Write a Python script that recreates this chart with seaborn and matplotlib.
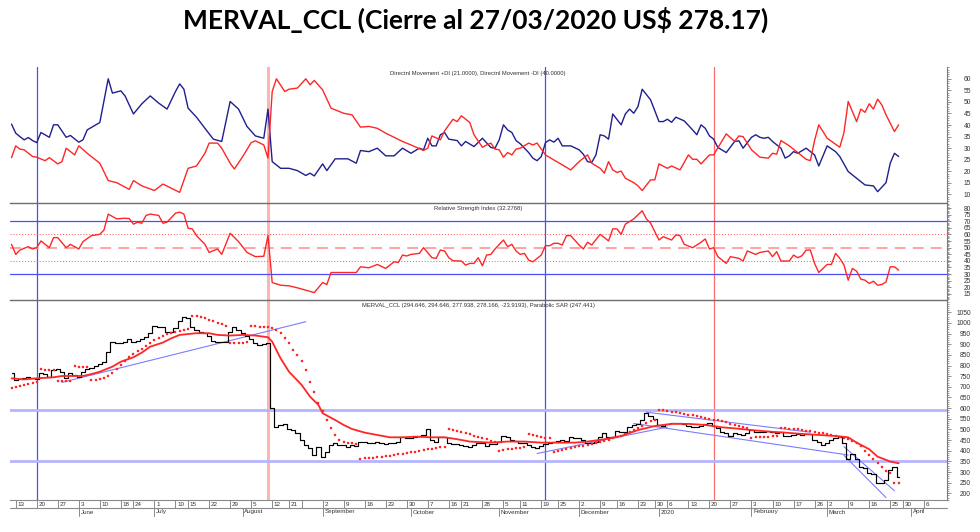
import numpy as np
import pandas as pd
import matplotlib
matplotlib.use("Agg")
import matplotlib.pyplot as plt
import matplotlib.transforms as mtransforms
from matplotlib.ticker import MultipleLocator
import seaborn as sns

# ---------------- data ----------------
first_session = "2019-05-10"
axis_end = "2020-04-14"
last_close_date = "2020-03-27"
no_session_dates = ["2019-06-17", "2019-06-20", "2019-07-08", "2019-07-09", "2019-08-16",
                    "2019-08-19", "2019-08-20", "2019-10-14", "2019-10-15", "2019-11-01",
                    "2019-11-18", "2019-12-13", "2019-12-25", "2019-12-31", "2020-01-01",
                    "2020-02-24", "2020-02-25", "2020-03-23", "2020-03-24"]

close = [764, 732, 735, 740, 748, 740, 737, 767, 760, 748, 779, 784, 771, 740, 767, 756, 745, 771, 782, 790,
         798, 807, 818, 865, 912, 905, 905, 912, 923, 912, 917, 923, 936, 952, 986, 980, 980, 959, 959, 975,
         1011, 1027, 1022, 983, 967, 959, 952, 939, 917, 912, 912, 912, 959, 980, 967, 955, 940, 925, 908, 897,
         901, 908, 599, 513, 521, 526, 500, 497, 482, 450, 427, 411, 380, 419, 372, 396, 427, 435, 427, 427,
         419, 427, 422, 443, 443, 438, 438, 443, 438, 432, 435, 438, 443, 463, 458, 458, 463, 469, 474, 500,
         450, 443, 466, 466, 435, 432, 432, 427, 424, 419, 427, 435, 438, 422, 432, 432, 443, 469, 463, 450,
         447, 435, 435, 427, 419, 411, 422, 432, 438, 443, 447, 450, 447, 463, 458, 458, 450, 438, 435, 443,
         463, 482, 466, 463, 494, 490, 490, 513, 521, 526, 544, 579, 563, 548, 521, 516, 526, 532, 529, 532,
         526, 516, 513, 510, 516, 526, 529, 516, 505, 490, 482, 469, 482, 479, 474, 482, 497, 490, 490, 490,
         494, 490, 482, 490, 469, 469, 474, 479, 474, 479, 479, 450, 443, 427, 435, 450, 458, 463, 435, 360,
         385, 360, 322, 317, 294, 291, 250, 250, 263, 310, 325, 278]

parabolic_sar = [693, 698, 703, 708, 713, 718, 722, 782, 781, 780, 778, 726, 727, 728, 729, 796, 795, 794, 793,
                 732, 734, 737, 742, 750, 765, 785, 805, 823, 840, 855, 868, 880, 892, 905, 918, 930, 939, 946,
                 952, 957, 962, 966, 970, 1033, 1031, 1027, 1022, 1016, 1009, 1002, 995, 988, 905, 906, 907,
                 908, 909, 985, 984, 983, 982, 981, 978, 968, 952, 928, 905, 873, 850, 823, 779, 724, 677, 625,
                 585, 544, 505, 474, 450, 443, 438, 435, 432, 362, 364, 366, 368, 370, 372, 375, 377, 380, 383,
                 386, 389, 392, 395, 398, 402, 406, 410, 413, 416, 419, 500, 496, 492, 487, 482, 477, 471, 465,
                 459, 453, 447, 441, 400, 403, 406, 409, 412, 415, 418, 477, 474, 470, 466, 462, 458, 396, 400,
                 404, 408, 412, 416, 420, 424, 428, 432, 435, 440, 446, 452, 459, 465, 471, 477, 486, 495, 505,
                 518, 530, 538, 545, 591, 589, 586, 583, 580, 577, 574, 570, 566, 562, 558, 554, 550, 546, 542,
                 538, 533, 527, 521, 516, 511, 506, 462, 463, 464, 465, 466, 467, 468, 508, 506, 504, 502, 500,
                 497, 494, 491, 488, 485, 482, 478, 474, 470, 466, 461, 455, 447, 436, 420, 400, 380, 360, 341,
                 322, 306, 297, 247, 247]

# (session number, value) pairs
moving_avg = [(0, 740), (3, 735), (6, 740), (10, 745), (12, 751), (17, 751), (19, 760), (21, 771), (24, 795),
              (26, 818), (29, 839), (31, 861), (33, 889), (36, 908), (38, 928), (40, 944), (42, 948), (44, 952),
              (47, 952), (49, 944), (52, 941), (55, 944), (58, 941), (61, 933), (62, 912), (64, 834), (66, 771),
              (69, 709), (71, 654), (73, 615), (74, 576), (77, 544), (79, 521), (81, 502), (84, 485), (87, 474),
              (90, 463), (93, 463), (96, 466), (100, 463), (103, 463), (106, 454), (109, 443), (114, 438),
              (118, 443), (122, 443), (126, 438), (130, 438), (134, 438), (137, 443), (141, 454), (145, 469),
              (149, 497), (153, 516), (157, 526), (161, 526), (165, 521), (169, 510), (172, 505), (176, 497),
              (180, 490), (184, 485), (188, 479), (192, 474), (196, 469), (199, 463), (201, 438), (204, 407),
              (206, 372), (208, 357), (209, 349), (211, 341)]

plus_di = [(0, 40.4), (1, 36.5), (2, 35), (3, 33.6), (4, 34.6), (5, 33.3), (6, 32.4), (7, 36.8), (9, 34.7),
           (10, 40.1), (11, 40.1), (13, 34.7), (14, 35.5), (16, 32.6), (17, 33.6), (18, 37.9), (21, 41.1),
           (23, 60), (24, 53.8), (26, 54.8), (27, 52.6), (29, 44.8), (31, 49.2), (33, 52.6), (35, 49.5),
           (37, 46.9), (39, 54.5), (40, 57.8), (41, 55.5), (42, 47.3), (44, 43.4), (46, 38.6), (48, 33.9),
           (50, 32.9), (52, 50.2), (54, 46.9), (56, 39.4), (58, 35.3), (60, 34.3), (61, 46.9), (62, 24.2),
           (64, 21.3), (66, 21.3), (68, 20.3), (70, 18.2), (71, 19.2), (72, 18), (74, 23.2), (75, 20.3),
           (77, 25.4), (80, 25.4), (82, 23.5), (83, 29), (85, 28.5), (87, 30), (89, 26.7), (91, 26.7),
           (93, 30), (95, 27.8), (97, 30), (98, 29.3), (99, 34.3), (100, 31), (101, 31), (102, 35.8),
           (103, 36.8), (104, 33.9), (106, 33.3), (107, 31), (108, 32.9), (110, 30.7), (112, 34.3),
           (114, 30.3), (115, 30), (116, 33.6), (117, 40.1), (118, 37.9), (119, 36.8), (120, 33.3),
           (121, 31.9), (123, 28.1), (124, 25.7), (125, 24.6), (126, 26.4), (127, 32.4), (128, 33.6),
           (129, 32.6), (130, 34.3), (131, 31), (133, 31), (135, 29.3), (136, 27.4), (137, 24.2), (138, 23.8),
           (139, 27.1), (140, 35.8), (141, 35.3), (142, 33.9), (143, 44.8), (145, 40.1), (146, 44.8),
           (147, 46.9), (148, 45.1), (149, 48), (150, 55.5), (152, 50.9), (154, 41.5), (155, 41.5),
           (156, 42.5), (157, 41.2), (158, 43.4), (160, 41.8), (162, 37.9), (163, 35.8), (164, 40.1),
           (165, 38.6), (166, 35.3), (167, 33.9), (168, 30.3), (170, 28.1), (172, 32.9), (173, 33.2),
           (174, 30), (176, 34.7), (177, 35.8), (178, 34.7), (179, 34.3), (180, 34.7), (181, 32.9), (183, 30),
           (184, 25.7), (185, 26.7), (186, 28.5), (187, 27.8), (189, 30), (191, 27.1), (192, 22.3), (194, 31),
           (196, 28.5), (197, 26.4), (199, 19.9), (201, 17), (203, 14.1), (205, 13.7), (206, 11.2),
           (208, 15.1), (209, 23.5), (210, 27.8), (211, 26.4)]

minus_di = [(0, 25.9), (1, 31), (2, 29.6), (3, 29.3), (5, 26.4), (6, 26.1), (8, 24.6), (9, 25.9), (11, 23.2),
            (12, 24.2), (13, 30), (15, 27.1), (16, 31), (18, 27.8), (21, 23.5), (23, 16), (25, 15.1),
            (28, 12.2), (29, 16), (31, 13.7), (34, 11.7), (36, 14.5), (38, 12.7), (40, 10.9), (42, 21.3),
            (44, 22.3), (46, 27.8), (47, 32.2), (49, 32.2), (50, 30), (52, 23.5), (53, 21), (55, 26.4),
            (57, 32.4), (58, 33.2), (60, 31.4), (61, 25.7), (62, 54.5), (63, 60), (65, 54.5), (66, 55.5),
            (68, 56), (70, 60), (71, 57.4), (72, 59.3), (74, 55.2), (76, 47.3), (79, 45.1), (81, 44.4),
            (83, 39.1), (85, 39.4), (87, 38.6), (89, 36.5), (93, 32.9), (95, 31.4), (98, 29), (99, 30),
            (100, 35.3), (102, 33.6), (103, 37.5), (105, 42.5), (106, 41.5), (107, 44), (109, 41.1),
            (110, 35.8), (112, 30.4), (113, 31.4), (114, 32.2), (115, 29.6), (116, 29.3), (117, 26.1),
            (118, 28.1), (119, 27.1), (120, 29.6), (121, 30), (123, 32.2), (124, 31.4), (125, 32.2),
            (127, 27.1), (129, 24.9), (131, 22.8), (133, 20.6), (135, 24.2), (137, 27.1), (138, 23.5),
            (140, 21.3), (141, 19.2), (142, 24.2), (143, 20.6), (144, 19.5), (145, 20.1), (146, 17),
            (148, 15.1), (149, 13.7), (150, 11.7), (152, 16.3), (153, 16.3), (154, 23.2), (156, 21.3),
            (157, 22.3), (159, 20.6), (161, 27.1), (162, 25.2), (163, 25.2), (164, 23.2), (166, 27.1),
            (167, 27.1), (170, 36.2), (172, 32.9), (173, 35.3), (174, 35), (176, 29.3), (178, 26.1),
            (180, 25.7), (181, 27.8), (182, 27.4), (183, 33.3), (185, 31), (187, 28.1), (189, 25.2),
            (190, 24.6), (191, 33.3), (192, 40.1), (194, 34.3), (197, 30.4), (198, 36.8), (199, 50.2),
            (200, 45.9), (201, 41.5), (202, 46.9), (203, 45.5), (204, 49.2), (205, 46.9), (206, 51.2),
            (207, 48.7), (208, 44.4), (209, 40.8), (210, 37.2), (211, 40.1)]

rsi = [(0, 52.5), (1, 44.9), (2, 48.2), (4, 50.8), (5, 49), (6, 50), (7, 55.1), (9, 50), (10, 57.6), (11, 57.6),
       (13, 50), (14, 52.5), (16, 49), (17, 54.6), (19, 59.1), (21, 60.1), (22, 63.4), (23, 75.4), (25, 71.8),
       (27, 72.3), (28, 72), (29, 67.8), (30, 69.3), (31, 68.5), (32, 74.4), (33, 75.4), (35, 74.4),
       (36, 68.5), (37, 69.3), (39, 76.1), (40, 76.9), (41, 75.4), (42, 64.7), (43, 64.2), (44, 59.1),
       (46, 52.5), (47, 46.4), (49, 49), (50, 44.9), (52, 60.9), (54, 54.6), (56, 46.4), (58, 43.2),
       (60, 43.5), (61, 59.1), (62, 23.6), (64, 21.6), (66, 21.1), (68, 19.6), (70, 17.8), (72, 16),
       (74, 23.6), (75, 22.1), (76, 31.2), (82, 31.2), (83, 35.5), (85, 34.8), (87, 37.3), (89, 34.3),
       (91, 39.3), (92, 38.8), (93, 44.4), (94, 43.7), (95, 44.9), (97, 45.7), (98, 50), (100, 42.4),
       (101, 41.9), (102, 48.2), (103, 47.5), (104, 42.4), (105, 40.1), (107, 39.9), (108, 36.8),
       (109, 38.1), (110, 38.1), (111, 42.4), (112, 36.3), (113, 44.4), (114, 44.9), (115, 49), (117, 55.8),
       (118, 50.8), (119, 52.5), (120, 47.5), (121, 44.9), (122, 45.7), (123, 40.6), (124, 39.3),
       (126, 44.4), (127, 51.5), (128, 51.5), (129, 53.3), (130, 53.3), (131, 52), (132, 59.1), (133, 59.1),
       (135, 52), (136, 49), (137, 54.1), (138, 52), (140, 60.1), (142, 55.1), (143, 64.2), (144, 64.2),
       (145, 60.1), (146, 67.8), (148, 71.8), (150, 77.9), (151, 71.8), (152, 68.5), (154, 55.8),
       (155, 58.3), (157, 55.8), (158, 59.6), (159, 59.1), (160, 52.5), (162, 50), (164, 54.1), (165, 56.6),
       (166, 49), (167, 50), (168, 43.2), (170, 38.1), (171, 43.2), (173, 41.9), (174, 39.9), (175, 47.5),
       (177, 44.9), (178, 46.4), (180, 47.5), (181, 43.2), (182, 47), (183, 39.9), (185, 39.9), (186, 44.4),
       (187, 42.4), (188, 43.9), (189, 48.2), (190, 48.2), (191, 38.1), (192, 31.2), (194, 37.3),
       (195, 37.3), (196, 45.7), (197, 41.9), (198, 36.8), (199, 25.4), (200, 34.3), (201, 32.2),
       (202, 26.2), (203, 25.4), (204, 22.9), (205, 24.6), (206, 21.6), (207, 22.1), (208, 24.1),
       (209, 35.5), (210, 35.5), (211, 33)]

# trend lines: (start date, start value, end date, end value)
trend_lines = [("2019-05-28", 721, "2019-08-27", 1006),
               ("2019-11-15", 387, "2020-01-06", 511),
               ("2019-12-26", 581, "2020-02-21", 487),
               ("2019-12-20", 528, "2020-03-09", 380),
               ("2020-03-06", 419, "2020-03-26", 212),
               ("2020-03-06", 378, "2020-03-20", 180)]
support_levels = [590, 353]
blue_marks = ["2019-05-20", "2019-11-20"]
red_marks = ["2019-08-09", "2020-01-21"]

day_label_dates = ["2019-05-13", "2019-05-20", "2019-05-27", "2019-06-03", "2019-06-10", "2019-06-18",
                   "2019-06-24", "2019-07-01", "2019-07-10", "2019-07-15", "2019-07-22", "2019-07-29",
                   "2019-08-05", "2019-08-12", "2019-08-21", "2019-09-02", "2019-09-09", "2019-09-16",
                   "2019-09-23", "2019-09-30", "2019-10-07", "2019-10-16", "2019-10-21", "2019-10-28",
                   "2019-11-05", "2019-11-11", "2019-11-19", "2019-11-25", "2019-12-02", "2019-12-09",
                   "2019-12-16", "2019-12-23", "2019-12-30", "2020-01-06", "2020-01-13", "2020-01-20",
                   "2020-01-27", "2020-02-03", "2020-02-10", "2020-02-17", "2020-02-26", "2020-03-02",
                   "2020-03-09", "2020-03-16", "2020-03-25", "2020-03-30", "2020-04-06"]
unlabeled_tick_dates = ["2019-08-26"]
month_starts = ["2019-06-01", "2019-07-01", "2019-08-01", "2019-09-01", "2019-10-01", "2019-11-01",
                "2019-12-01", "2020-01-01", "2020-02-01", "2020-03-01", "2020-04-01"]
month_labels = ["June", "July", "August", "September", "October", "November", "December", "2020",
                "February", "March", "April"]

title = "MERVAL_CCL (Cierre al 27/03/2020 US$ 278.17)"
dmi_label = "Directnl Movement +DI (21.0000), Directnl Movement -DI (40.0000)"
rsi_label = "Relative Strength Index (32.2768)"
price_label = "MERVAL_CCL (294.646, 294.646, 277.938, 278.166, -23.9193), Parabolic SAR (247.441)"

# ---------------- session calendar ----------------
bdays = pd.bdate_range(first_session, axis_end)
skip = set(pd.to_datetime(no_session_dates))
lcd = pd.Timestamp(last_close_date)
sessions = [d for d in bdays if not (d <= lcd and d in skip)]
sess_index = pd.DatetimeIndex(sessions)


def pos(date):
    return int(sess_index.searchsorted(pd.Timestamp(date)))


# ---------------- figure ----------------
sns.set_style("white")
plt.rcParams["font.family"] = ["Liberation Sans", "DejaVu Sans"]

W, H = 980, 532
fig = plt.figure(figsize=(W / 100, H / 100), dpi=100)


def rect(x0, y0, x1, y1):
    return [x0 / W, 1 - y1 / H, (x1 - x0) / W, (y1 - y0) / H]


ax1 = fig.add_axes(rect(10, 67, 947, 203))
ax2 = fig.add_axes(rect(10, 203, 947, 300))
ax3 = fig.add_axes(rect(10, 300, 947, 500))
XMIN, XMAX = -0.36, 222.5

RED = "#ff2626"
NAVY = "#1f1f8f"
GRID = "#7a7a7a"

for ax in (ax1, ax2, ax3):
    ax.set_xlim(XMIN, XMAX)
    ax.set_xticks([])
    for s in ("left", "top", "bottom"):
        ax.spines[s].set_visible(False)
    ax.spines["right"].set_color(GRID)
    ax.spines["right"].set_linewidth(0.8)
    for d in blue_marks:
        ax.axvline(pos(d), color="#4a4aff", lw=0.9, zorder=1)
    ax.axvline(pos(red_marks[0]), color="#ffb3b3", lw=2.2, zorder=1)
    ax.axvline(pos(red_marks[1]), color="#ff6a6a", lw=0.9, zorder=1)

ax2.spines["top"].set_visible(True)
ax3.spines["top"].set_visible(True)
ax3.spines["bottom"].set_visible(True)
for ax in (ax2, ax3):
    ax.spines["top"].set_color("#6e6e6e")
    ax.spines["top"].set_linewidth(1.0)
ax3.spines["bottom"].set_color("#8a8a8a")
ax3.spines["bottom"].set_linewidth(0.8)

# ---- DMI panel ----
pdi = pd.DataFrame(plus_di, columns=["session", "value"])
mdi = pd.DataFrame(minus_di, columns=["session", "value"])
sns.lineplot(data=pdi, x="session", y="value", ax=ax1, color=NAVY, lw=1.0, estimator=None, zorder=3)
sns.lineplot(data=mdi, x="session", y="value", ax=ax1, color=RED, lw=1.0, estimator=None, zorder=3)
ax1.set_ylim(6.3, 65.1)
ax1.set_yticks(np.arange(10, 61, 5))
ax1.yaxis.set_minor_locator(MultipleLocator(1))

# ---- RSI panel ----
rdf = pd.DataFrame(rsi, columns=["session", "value"])
for lvl in (70, 30):
    ax2.axhline(lvl, color="#4d4dff", lw=0.9, zorder=2)
for lvl in (60, 40):
    ax2.axhline(lvl, color="#ff5050", lw=0.7, ls=(0, (1, 2)), zorder=2)
ax2.axhline(50, color="#ff9c9c", lw=1.3, ls=(0, (6, 4)), zorder=2)
sns.lineplot(data=rdf, x="session", y="value", ax=ax2, color=RED, lw=1.0, estimator=None, zorder=3)
ax2.set_ylim(10.4, 83.8)
ax2.set_yticks(np.arange(15, 81, 5))
ax2.yaxis.set_minor_locator(MultipleLocator(1))

# ---- price panel ----
for lvl in support_levels:
    ax3.axhline(lvl, color="#b4b4ff", lw=2.0, zorder=2)
for d0, v0, d1, v1 in trend_lines:
    ax3.plot([pos(d0), pos(d1)], [v0, v1], color="#7c7cff", lw=0.8, zorder=2)
pdf = pd.DataFrame({"session": np.arange(len(close)), "close": close, "sar": parabolic_sar})
mdf = pd.DataFrame(moving_avg, columns=["session", "value"])
sns.lineplot(data=pdf, x="session", y="close", ax=ax3, color="black", lw=0.85,
             drawstyle="steps-mid", estimator=None, zorder=4)
sns.lineplot(data=mdf, x="session", y="value", ax=ax3, color=RED, lw=1.3, estimator=None, zorder=5)
sns.scatterplot(data=pdf, x="session", y="sar", ax=ax3, color=RED, s=2.2, marker="s",
                linewidth=0.2, edgecolor=RED, zorder=5)
ax3.set_ylim(168.5, 1108)
ax3.set_yticks(np.arange(200, 1051, 50))
ax3.yaxis.set_minor_locator(MultipleLocator(10))

for ax in (ax1, ax2, ax3):
    ax.set_xlim(XMIN, XMAX)
    ax.set_xlabel("")
    ax.set_ylabel("")
    ax.yaxis.tick_right()
    ax.tick_params(axis="y", which="major", length=3, width=0.6, color=GRID, pad=14.2,
                   labelsize=4.8, labelcolor="#333333", right=True, left=False)
    ax.tick_params(axis="y", which="minor", length=1.5, width=0.5, color=GRID, right=True, left=False)
    for lab in ax.get_yticklabels():
        lab.set_horizontalalignment("right")

# ---- date axis ----
tr = mtransforms.blended_transform_factory(ax3.transData, ax3.transAxes)
txt_off = mtransforms.offset_copy(tr, fig=fig, x=1.6, y=0, units="dots")
row = 8 / 200
ax3.plot([XMIN, XMAX], [-row, -row], transform=tr, clip_on=False, color="#8a8a8a", lw=0.8)
for d in day_label_dates:
    p = pos(d)
    ax3.plot([p, p], [0, -row], transform=tr, clip_on=False, color="#8a8a8a", lw=0.7)
    ax3.text(p, -row / 2, str(pd.Timestamp(d).day), transform=txt_off, fontsize=4.5,
             color="#333333", ha="left", va="center")
for d in unlabeled_tick_dates:
    p = pos(d)
    ax3.plot([p, p], [0, -row], transform=tr, clip_on=False, color="#8a8a8a", lw=0.7)
for d, lab in zip(month_starts, month_labels):
    p = pos(d)
    ax3.plot([p, p], [-row, -2 * row], transform=tr, clip_on=False, color="#8a8a8a", lw=0.7)
    ax3.text(p, -1.5 * row, lab, transform=txt_off, fontsize=4.5, color="#333333",
             ha="left", va="center")

# ---- texts ----
fig.text(476 / W, 1 - 20 / H, title, ha="center", va="center", fontsize=19,
         fontweight="bold", family=["Lato", "DejaVu Sans"], color="black")
fig.text(478 / W, 1 - 73 / H, dmi_label, ha="center", va="center", fontsize=4.2, color="#333333")
fig.text(478 / W, 1 - 208.5 / H, rsi_label, ha="center", va="center", fontsize=4.2, color="#333333")
fig.text(478 / W, 1 - 305 / H, price_label, ha="center", va="center", fontsize=4.2, color="#333333")

fig.savefig("out.png", dpi=100, facecolor="white")
